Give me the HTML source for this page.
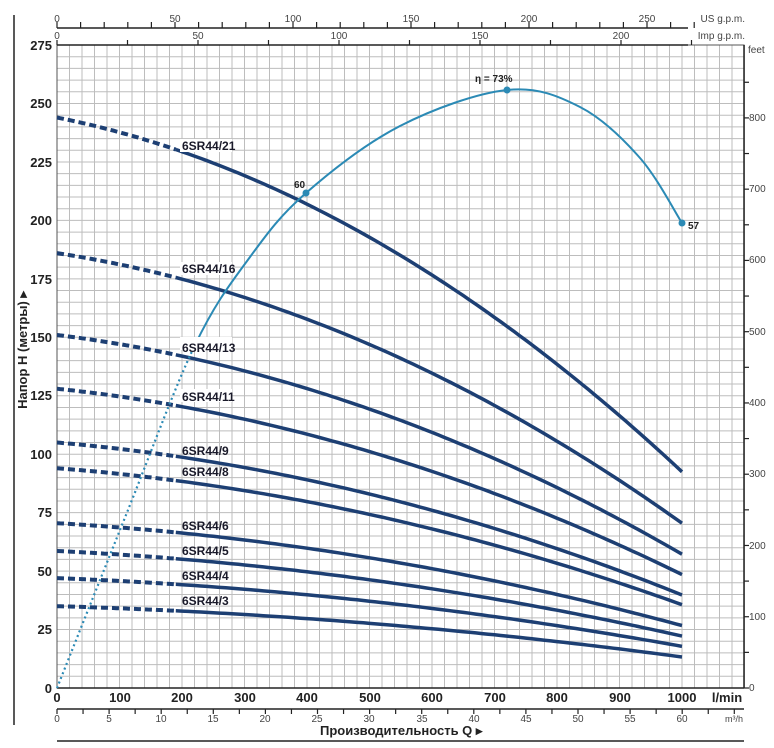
<!DOCTYPE html>
<html><head><meta charset="utf-8"><style>
html,body{margin:0;padding:0;background:#fff;}
svg{display:block;font-family:"Liberation Sans",sans-serif;}
.b{font-weight:bold;font-size:13px;fill:#222;}
.s{font-size:10px;fill:#444;}
.lb{font-weight:bold;font-size:12px;fill:#1a1a2a;}
</style></head><body>
<svg id="c" width="774" height="748" viewBox="0 0 774 748">
<g id="grid"></g>
<rect x="57" y="45" width="687" height="643" fill="none" stroke="#555" stroke-width="1"/>
<line x1="14" y1="15" x2="14" y2="725" stroke="#222" stroke-width="1.5"/>
<line x1="57" y1="28" x2="688" y2="28" stroke="#222" stroke-width="1.5"/>
<line x1="57" y1="45" x2="688" y2="45" stroke="#222" stroke-width="1.5"/>
<line x1="57" y1="688" x2="744" y2="688" stroke="#222" stroke-width="1.5"/>
<line x1="57" y1="709" x2="744" y2="709" stroke="#222" stroke-width="1.5"/>
<line x1="57" y1="741" x2="744" y2="741" stroke="#222" stroke-width="1.5"/>
<line x1="744" y1="45" x2="744" y2="688" stroke="#222" stroke-width="1.5"/>
<g id="ticks" stroke="#222" stroke-width="1.2"></g>
<g id="curves"></g>
<g class="lb">
<rect x="180" y="139" width="52" height="13" fill="#fff"/><text x="182" y="150">6SR44/21</text>
<rect x="180" y="262" width="52" height="13" fill="#fff"/><text x="182" y="273">6SR44/16</text>
<rect x="180" y="337" width="52" height="13" fill="#fff"/><text x="182" y="352">6SR44/13</text>
<rect x="180" y="389" width="52" height="13" fill="#fff"/><text x="182" y="401">6SR44/11</text>
<text x="182" y="455">6SR44/9</text>
<text x="182" y="476">6SR44/8</text>
<text x="182" y="530">6SR44/6</text>
<text x="182" y="555">6SR44/5</text>
<text x="182" y="580">6SR44/4</text>
<text x="182" y="605">6SR44/3</text>
</g>
<text x="294" y="188" font-size="10" font-weight="bold" fill="#222">60</text>
<text x="475" y="82" font-size="10" font-weight="bold" fill="#222">η = 73%</text>
<text x="688" y="229" font-size="10" font-weight="bold" fill="#222">57</text>
<g class="b" text-anchor="end">
<text x="52" y="50">275</text><text x="52" y="108">250</text><text x="52" y="167">225</text>
<text x="52" y="225">200</text><text x="52" y="284">175</text><text x="52" y="342">150</text>
<text x="52" y="400">125</text><text x="52" y="459">100</text><text x="52" y="517">75</text>
<text x="52" y="576">50</text><text x="52" y="634">25</text><text x="52" y="693">0</text>
</g>
<text class="b" transform="translate(27,350) rotate(-90)" text-anchor="middle">Напор H (метры) ▸</text>
<g class="b" text-anchor="middle">
<text x="57" y="702">0</text><text x="120" y="702">100</text><text x="182" y="702">200</text>
<text x="245" y="702">300</text><text x="307" y="702">400</text><text x="370" y="702">500</text>
<text x="432" y="702">600</text><text x="495" y="702">700</text><text x="557" y="702">800</text>
<text x="620" y="702">900</text><text x="682" y="702">1000</text><text x="727" y="702">l/min</text>
</g>
<g class="s" text-anchor="middle">
<text x="57" y="722">0</text><text x="109" y="722">5</text><text x="161" y="722">10</text>
<text x="213" y="722">15</text><text x="265" y="722">20</text><text x="317" y="722">25</text>
<text x="369" y="722">30</text><text x="422" y="722">35</text><text x="474" y="722">40</text>
<text x="526" y="722">45</text><text x="578" y="722">50</text><text x="630" y="722">55</text>
<text x="682" y="722">60</text><text x="734" y="722" font-size="9">m³/h</text>
</g>
<text class="b" x="320" y="735">Производительность Q ▸</text>
<g class="s" text-anchor="middle">
<text x="57" y="22">0</text><text x="175" y="22">50</text><text x="293" y="22">100</text>
<text x="411" y="22">150</text><text x="529" y="22">200</text><text x="647" y="22">250</text>
<text x="57" y="39">0</text><text x="198" y="39">50</text><text x="339" y="39">100</text>
<text x="480" y="39">150</text><text x="621" y="39">200</text>
</g>
<text class="s" x="745" y="22" text-anchor="end">US g.p.m.</text>
<text class="s" x="745" y="39" text-anchor="end">Imp g.p.m.</text>
<g class="s">
<text x="748" y="53">feet</text>
<text x="749" y="121">800</text><text x="749" y="192">700</text><text x="749" y="263">600</text>
<text x="749" y="335">500</text><text x="749" y="406">400</text><text x="749" y="477">300</text>
<text x="749" y="549">200</text><text x="749" y="620">100</text><text x="749" y="691">0</text>
</g>
</svg>
<script>
var NS="http://www.w3.org/2000/svg";
function el(p,t,a){var e=document.createElementNS(NS,t);for(var k in a)e.setAttribute(k,a[k]);p.appendChild(e);return e;}
var g=document.getElementById('grid');
for(var q=0;q<=1100;q+=20){var x=57+q*0.625;el(g,'line',{x1:x,y1:45,x2:x,y2:688,stroke:'#bdbdbd','stroke-width':1});}
for(var h=0;h<=275;h+=5){var y=688-h*2.338;el(g,'line',{x1:57,y1:y,x2:744,y2:y,stroke:'#bdbdbd','stroke-width':1});}
var t=document.getElementById('ticks');
for(var u=0;u<=270;u+=10){var x=57+u*2.36;el(t,'line',{x1:x,y1:22,x2:x,y2:28});}
for(var i=0;i<=225;i+=25){var x=57+i*2.82;el(t,'line',{x1:x,y1:40,x2:x,y2:45});}
for(var m=0;m<=65;m+=2.5){var x=57+m*10.42;el(t,'line',{x1:x,y1:709,x2:x,y2:714});}
for(var f=0;f<=850;f+=50){var y=688-f*0.3048*2.338;el(t,'line',{x1:744,y1:y,x2:749,y2:y});}
var c=document.getElementById('curves');
var H=[244,186,151,128,105,94,70.5,58.6,47,35];
function fy(h0,q){var s=q/1000;return 688-h0*(1-0.219*s-0.402*s*s)*2.338;}
H.forEach(function(h0){
 var d='',d2='';
 for(var q=0;q<=190;q+=5){d+=(q?'L':'M')+(57+q*0.625).toFixed(1)+' '+fy(h0,q).toFixed(1);}
 for(var q=190;q<=1000;q+=10){d2+=(q>190?'L':'M')+(57+q*0.625).toFixed(1)+' '+fy(h0,q).toFixed(1);}
 el(c,'path',{d:d,fill:'none',stroke:'#1d3f73','stroke-width':4,'stroke-dasharray':'7 4'});
 el(c,'path',{d:d2,fill:'none',stroke:'#1d3f73','stroke-width':3.5});
});
var P=[[57,688],[126,515],[195,345],[250,257],[306,193],[400,126],[507,90],[580,107],[640,158],[682,223]];
function cr(pts,i0,i1){var s='M'+pts[i0][0]+' '+pts[i0][1];
 for(var i=i0;i<i1;i++){var p0=pts[Math.max(i-1,0)],p1=pts[i],p2=pts[i+1],p3=pts[Math.min(i+2,pts.length-1)];
  s+='C'+(p1[0]+(p2[0]-p0[0])/6).toFixed(1)+' '+(p1[1]+(p2[1]-p0[1])/6).toFixed(1)+' '+(p2[0]-(p3[0]-p1[0])/6).toFixed(1)+' '+(p2[1]-(p3[1]-p1[1])/6).toFixed(1)+' '+p2[0]+' '+p2[1];}
 return s;}
el(c,'path',{d:cr(P,0,2),fill:'none',stroke:'#2b8ab5','stroke-width':2.2,'stroke-dasharray':'2 3'});
el(c,'path',{d:cr(P,2,9),fill:'none',stroke:'#2b8ab5','stroke-width':2});
[[306,193],[507,90],[682,223]].forEach(function(p){el(c,'circle',{cx:p[0],cy:p[1],r:3.5,fill:'#2b8ab5'});});
</script>
</body></html>
